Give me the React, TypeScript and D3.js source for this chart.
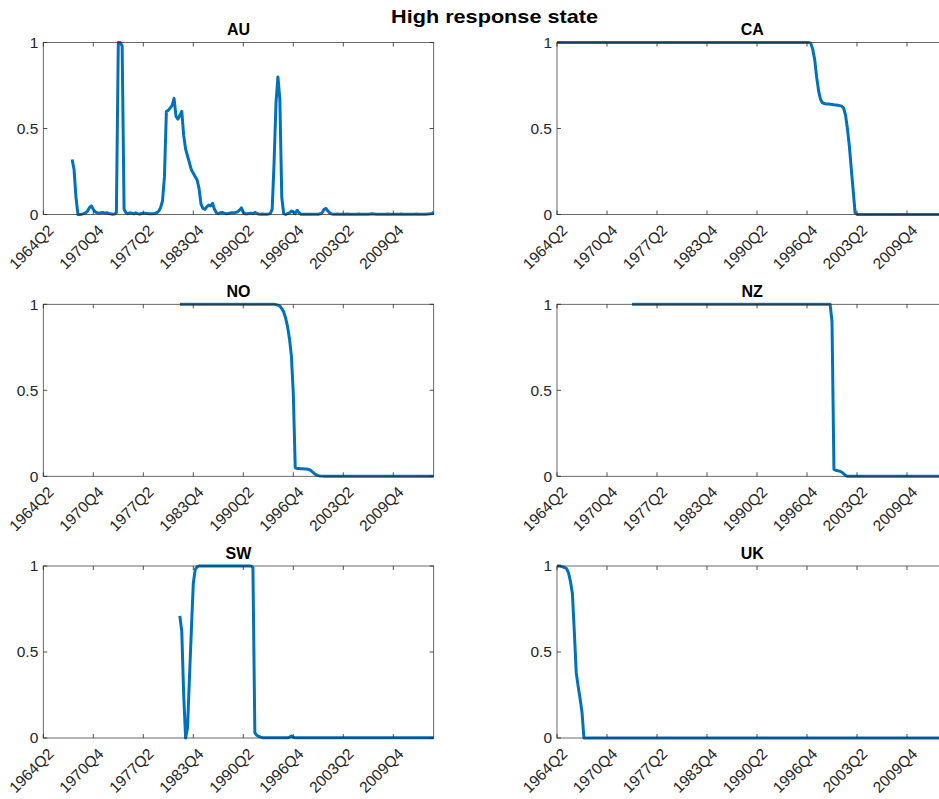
import React from "react";
import * as d3 from "d3";

// ---------- data ----------
const TICK_INDEX = [0, 26, 52, 78, 104, 130, 156, 182];
const TICK_LABELS = ["1964Q2", "1970Q4", "1977Q2", "1983Q4", "1990Q2", "1996Q4", "2003Q2", "2009Q4"];
const X_MAX = 203; // last quarter index shown (2015Q1)
const Y_TICKS = [0, 0.5, 1];
const Y_TICK_LABELS = ["0", "0.5", "1"];
const MAIN_TITLE = "High response state";

const AU_START = 15;
const AU = [
  0.32, 0.26, 0.1, 0.0, 0.0, 0.002, 0.005, 0.01, 0.02, 0.04,
  0.05, 0.03, 0.015, 0.01, 0.008, 0.01, 0.012, 0.008, 0.01, 0.006,
  0.004, 0.002, 0.003, 0.01, 1.0, 1.0, 0.98, 0.03, 0.01, 0.005,
  0.01, 0.008, 0.004, 0.01, 0.005, 0.002, 0.006, 0.008, 0.007, 0.006,
  0.005, 0.004, 0.005, 0.006, 0.01, 0.02, 0.04, 0.08, 0.22, 0.6,
  0.605, 0.62, 0.635, 0.675, 0.57, 0.555, 0.575, 0.6, 0.46, 0.38,
  0.34, 0.3, 0.26, 0.24, 0.22, 0.2, 0.15, 0.06, 0.035, 0.03,
  0.045, 0.055, 0.05, 0.065, 0.03, 0.01, 0.005, 0.01, 0.012, 0.008,
  0.005, 0.006, 0.008, 0.01, 0.01, 0.012, 0.015, 0.025, 0.038, 0.012,
  0.005, 0.004, 0.006, 0.008, 0.005, 0.012, 0.006, 0.003, 0.002, 0.003,
  0.002, 0.002, 0.003, 0.005, 0.03, 0.3, 0.65, 0.8, 0.67, 0.1,
  0.005, 0.0, 0.005, 0.01, 0.02, 0.015, 0.005, 0.025, 0.01, 0.002,
  0.001, 0.001, 0.002, 0.001, 0.001, 0.002, 0.001, 0.001, 0.002, 0.004,
  0.01, 0.03, 0.035, 0.02, 0.008, 0.003, 0.002, 0.002, 0.003, 0.002,
  0.002, 0.001, 0.002, 0.003, 0.002, 0.002, 0.001, 0.002, 0.002, 0.003,
  0.002, 0.002, 0.001, 0.002, 0.002, 0.003, 0.004, 0.003, 0.002, 0.002,
  0.001, 0.002, 0.002, 0.002, 0.003, 0.002, 0.002, 0.001, 0.002, 0.002,
  0.002, 0.003, 0.002, 0.002, 0.001, 0.002, 0.002, 0.002, 0.002, 0.003,
  0.002, 0.002, 0.001, 0.002, 0.002, 0.003, 0.004, 0.006, 0.012,
];

const CA_START = 0;
const CA = [
  1, 1, 1, 1, 1, 1, 1, 1, 1, 1,
  1, 1, 1, 1, 1, 1, 1, 1, 1, 1,
  1, 1, 1, 1, 1, 1, 1, 1, 1, 1,
  1, 1, 1, 1, 1, 1, 1, 1, 1, 1,
  1, 1, 1, 1, 1, 1, 1, 1, 1, 1,
  1, 1, 1, 1, 1, 1, 1, 1, 1, 1,
  1, 1, 1, 1, 1, 1, 1, 1, 1, 1,
  1, 1, 1, 1, 1, 1, 1, 1, 1, 1,
  1, 1, 1, 1, 1, 1, 1, 1, 1, 1,
  1, 1, 1, 1, 1, 1, 1, 1, 1, 1,
  1, 1, 1, 1, 1, 1, 1, 1, 1, 1,
  1, 1, 1, 1, 1, 1, 1, 1, 1, 1,
  1, 1, 1, 1, 1, 1, 1, 1, 1, 1,
  1, 1,
  0.995, 0.96, 0.9, 0.8, 0.72, 0.67, 0.65, 0.645, 0.643, 0.642,
  0.641, 0.64, 0.638, 0.637, 0.635, 0.633, 0.63, 0.62, 0.58, 0.5,
  0.4, 0.27, 0.14, 0.01,
  0, 0, 0, 0, 0, 0, 0, 0, 0, 0,
  0, 0, 0, 0, 0, 0, 0, 0, 0, 0,
  0, 0, 0, 0, 0, 0, 0, 0, 0, 0,
  0, 0, 0, 0, 0, 0, 0, 0, 0, 0,
  0, 0, 0, 0, 0, 0, 0, 0,
];

const NO_START = 71;
const NO = [
  1, 1, 1, 1, 1, 1, 1, 1, 1, 1,
  1, 1, 1, 1, 1, 1, 1, 1, 1, 1,
  1, 1, 1, 1, 1, 1, 1, 1, 1, 1,
  1, 1, 1, 1, 1, 1, 1, 1, 1, 1,
  1, 1, 1, 1, 1, 1, 1, 1, 1, 1,
  0.998, 0.995, 0.99, 0.975, 0.955, 0.92, 0.87, 0.8, 0.7, 0.48,
  0.05, 0.045, 0.045, 0.044, 0.044, 0.043, 0.042, 0.04, 0.035, 0.025,
  0.015, 0.008, 0.004, 0.002, 0.001,
  0, 0, 0, 0, 0, 0, 0, 0, 0, 0,
  0, 0, 0, 0, 0, 0, 0, 0, 0, 0,
  0, 0, 0, 0, 0, 0, 0, 0, 0, 0,
  0, 0, 0, 0, 0, 0, 0, 0, 0, 0,
  0, 0, 0, 0, 0, 0, 0, 0, 0, 0,
  0, 0, 0, 0, 0, 0, 0, 0,
];

const NZ_START = 39;
const NZ = [
  1, 1, 1, 1, 1, 1, 1, 1, 1, 1,
  1, 1, 1, 1, 1, 1, 1, 1, 1, 1,
  1, 1, 1, 1, 1, 1, 1, 1, 1, 1,
  1, 1, 1, 1, 1, 1, 1, 1, 1, 1,
  1, 1, 1, 1, 1, 1, 1, 1, 1, 1,
  1, 1, 1, 1, 1, 1, 1, 1, 1, 1,
  1, 1, 1, 1, 1, 1, 1, 1, 1, 1,
  1, 1, 1, 1, 1, 1, 1, 1, 1, 1,
  1, 1, 1, 1, 1, 1, 1, 1, 1, 1,
  1, 1, 1, 1, 1, 1, 1, 1, 1, 1,
  1, 1, 1, 1,
  0.9, 0.04, 0.035, 0.032, 0.03, 0.025, 0.015, 0.005,
  0, 0, 0, 0, 0, 0, 0, 0, 0, 0,
  0, 0, 0, 0, 0, 0, 0, 0, 0, 0,
  0, 0, 0, 0, 0, 0, 0, 0, 0, 0,
  0, 0, 0, 0, 0, 0, 0, 0, 0, 0,
  0, 0, 0, 0, 0, 0, 0, 0, 0, 0,
  0, 0, 0,
];

const SW_START = 71;
const SW = [
  0.71, 0.62, 0.25, 0.0, 0.06, 0.35, 0.63, 0.9, 0.98, 0.995,
  1, 1, 1, 1, 1, 1, 1, 1, 1, 1,
  1, 1, 1, 1, 1, 1, 1, 1, 1, 1,
  1, 1, 1, 1, 1, 1, 1, 1,
  0.99, 0.03, 0.015, 0.01, 0.005, 0.002,
  0.002, 0.002, 0.002, 0.002, 0.002, 0.002, 0.002, 0.002, 0.002, 0.002,
  0.002, 0.002, 0.002,
  0.004, 0.012, 0.004,
  0.001, 0.001, 0.001, 0.001, 0.001, 0.001, 0.001, 0.001, 0.001, 0.001,
  0.001, 0.001, 0.001, 0.001, 0.001, 0.001, 0.001, 0.001, 0.001, 0.001,
  0.001, 0.001, 0.001, 0.001, 0.001, 0.001, 0.001, 0.001, 0.001, 0.001,
  0.001, 0.001, 0.001, 0.001, 0.001, 0.001, 0.001, 0.001, 0.001, 0.001,
  0.001, 0.001, 0.001, 0.001, 0.001, 0.001, 0.001, 0.001, 0.001, 0.001,
  0.001, 0.001, 0.001, 0.001, 0.001, 0.001, 0.001, 0.001, 0.001, 0.001,
  0.001, 0.001, 0.001, 0.001, 0.001, 0.001, 0.001, 0.001, 0.001, 0.001,
  0.001, 0.001, 0.001,
];

const UK_START = 0;
const UK = [
  1, 1, 0.998, 0.995, 0.99, 0.985, 0.96, 0.91, 0.84, 0.62,
  0.38, 0.3, 0.23, 0.15, 0.0,
  0, 0, 0, 0, 0, 0, 0, 0, 0, 0,
  0, 0, 0, 0, 0, 0, 0, 0, 0, 0,
  0, 0, 0, 0, 0, 0, 0, 0, 0, 0,
  0, 0, 0, 0, 0, 0, 0, 0, 0, 0,
  0, 0, 0, 0, 0, 0, 0, 0, 0, 0,
  0, 0, 0, 0, 0, 0, 0, 0, 0, 0,
  0, 0, 0, 0, 0, 0, 0, 0, 0, 0,
  0, 0, 0, 0, 0, 0, 0, 0, 0, 0,
  0, 0, 0, 0, 0, 0, 0, 0, 0, 0,
  0, 0, 0, 0, 0, 0, 0, 0, 0, 0,
  0, 0, 0, 0, 0, 0, 0, 0, 0, 0,
  0, 0, 0, 0, 0, 0, 0, 0, 0, 0,
  0, 0, 0, 0, 0, 0, 0, 0, 0, 0,
  0, 0, 0, 0, 0, 0, 0, 0, 0, 0,
  0, 0, 0, 0, 0, 0, 0, 0, 0, 0,
  0, 0, 0, 0, 0, 0, 0, 0, 0, 0,
  0, 0, 0, 0, 0, 0, 0, 0, 0, 0,
  0, 0, 0, 0, 0, 0, 0, 0, 0, 0,
  0, 0, 0, 0, 0, 0, 0, 0, 0,
];

const PANEL_NAMES = ["AU", "CA", "NO", "NZ", "SW", "UK"];
const PANEL_STARTS = [AU_START, CA_START, NO_START, NZ_START, SW_START, UK_START];
const PANEL_VALUES = [AU, CA, NO, NZ, SW, UK];

// ---------- layout ----------
const W = 939;
const H = 799;
const COL_X = [43.3, 557];
const ROW_Y = [42.5, 304.3, 566];
const PW = 390.4;
const PH = 172;
const FONT = "'Liberation Sans', Arial, Helvetica, sans-serif";
const AXIS_COLOR = "#262626";
const LINE_COLOR = "#0072BD";
const TICK_FS = 15.5;

function Panel({ idx }: { idx: number }) {
  const left = COL_X[idx % 2];
  const top = ROW_Y[Math.floor(idx / 2)];
  const x = d3.scaleLinear().domain([0, X_MAX]).range([left, left + PW]);
  const y = d3.scaleLinear().domain([0, 1]).range([top + PH, top]);
  const start = PANEL_STARTS[idx];
  const vals = PANEL_VALUES[idx];
  const pts: [number, number][] = vals
    .map((v, i) => [start + i, v] as [number, number])
    .filter((p) => p[0] <= X_MAX);
  const line = d3
    .line<[number, number]>()
    .x((d) => x(d[0]))
    .y((d) => y(d[1]));
  const bottom = top + PH;
  const right = left + PW;
  const clipId = `clip-${idx}`;
  return (
    <g>
      <defs>
        <clipPath id={clipId}>
          <rect x={left - 2} y={top - 2} width={PW + 4} height={PH + 4} />
        </clipPath>
      </defs>
      <path
        d={line(pts) || ""}
        fill="none"
        stroke={LINE_COLOR}
        strokeWidth={3}
        strokeLinejoin="round"
        clipPath={`url(#${clipId})`}
      />
      <rect x={left} y={top} width={PW} height={PH} fill="none" stroke={AXIS_COLOR} strokeWidth={0.8} strokeOpacity={0.85} />
      {TICK_INDEX.map((t, i) => (
        <g key={i}>
          <line x1={x(t)} x2={x(t)} y1={bottom} y2={bottom - 4} stroke={AXIS_COLOR} strokeWidth={0.8} />
          <line x1={x(t)} x2={x(t)} y1={top} y2={top + 4} stroke={AXIS_COLOR} strokeWidth={0.8} />
          <text
            transform={`translate(${x(t) + 7.5},${bottom + 13}) rotate(-45)`}
            textAnchor="end"
            dy="0.35em"
            fontFamily={FONT}
            fontSize={TICK_FS}
            fill={AXIS_COLOR}
          >
            {TICK_LABELS[i]}
          </text>
        </g>
      ))}
      {Y_TICKS.map((t, i) => (
        <g key={i}>
          <line x1={left} x2={left + 4} y1={y(t)} y2={y(t)} stroke={AXIS_COLOR} strokeWidth={0.8} />
          <line x1={right} x2={right - 4} y1={y(t)} y2={y(t)} stroke={AXIS_COLOR} strokeWidth={0.8} />
          <text x={left - 5} y={y(t)} dy="0.35em" textAnchor="end" fontFamily={FONT} fontSize={TICK_FS} fill={AXIS_COLOR}>
            {Y_TICK_LABELS[i]}
          </text>
        </g>
      ))}
      <text
        x={(left + right) / 2}
        y={top - 7.5}
        textAnchor="middle"
        fontFamily={FONT}
        fontSize={16}
        fontWeight="bold"
        fill="#000"
      >
        {PANEL_NAMES[idx]}
      </text>
    </g>
  );
}

export default function App() {
  return (
    <svg
      width={W}
      height={H}
      viewBox={`0 0 ${W} ${H}`}
      style={{ position: "absolute", left: 0, top: 0, background: "white", overflow: "hidden" }}
    >
      <rect x={0} y={0} width={W} height={H} fill="white" />
      {PANEL_NAMES.map((_, i) => (
        <Panel key={i} idx={i} />
      ))}
      <text
        x={494.5}
        y={22.5}
        textAnchor="middle"
        fontFamily={FONT}
        fontSize={18.5}
        fontWeight="bold"
        fill="#000"
        textLength={207}
        lengthAdjust="spacingAndGlyphs"
      >
        {MAIN_TITLE}
      </text>
    </svg>
  );
}
